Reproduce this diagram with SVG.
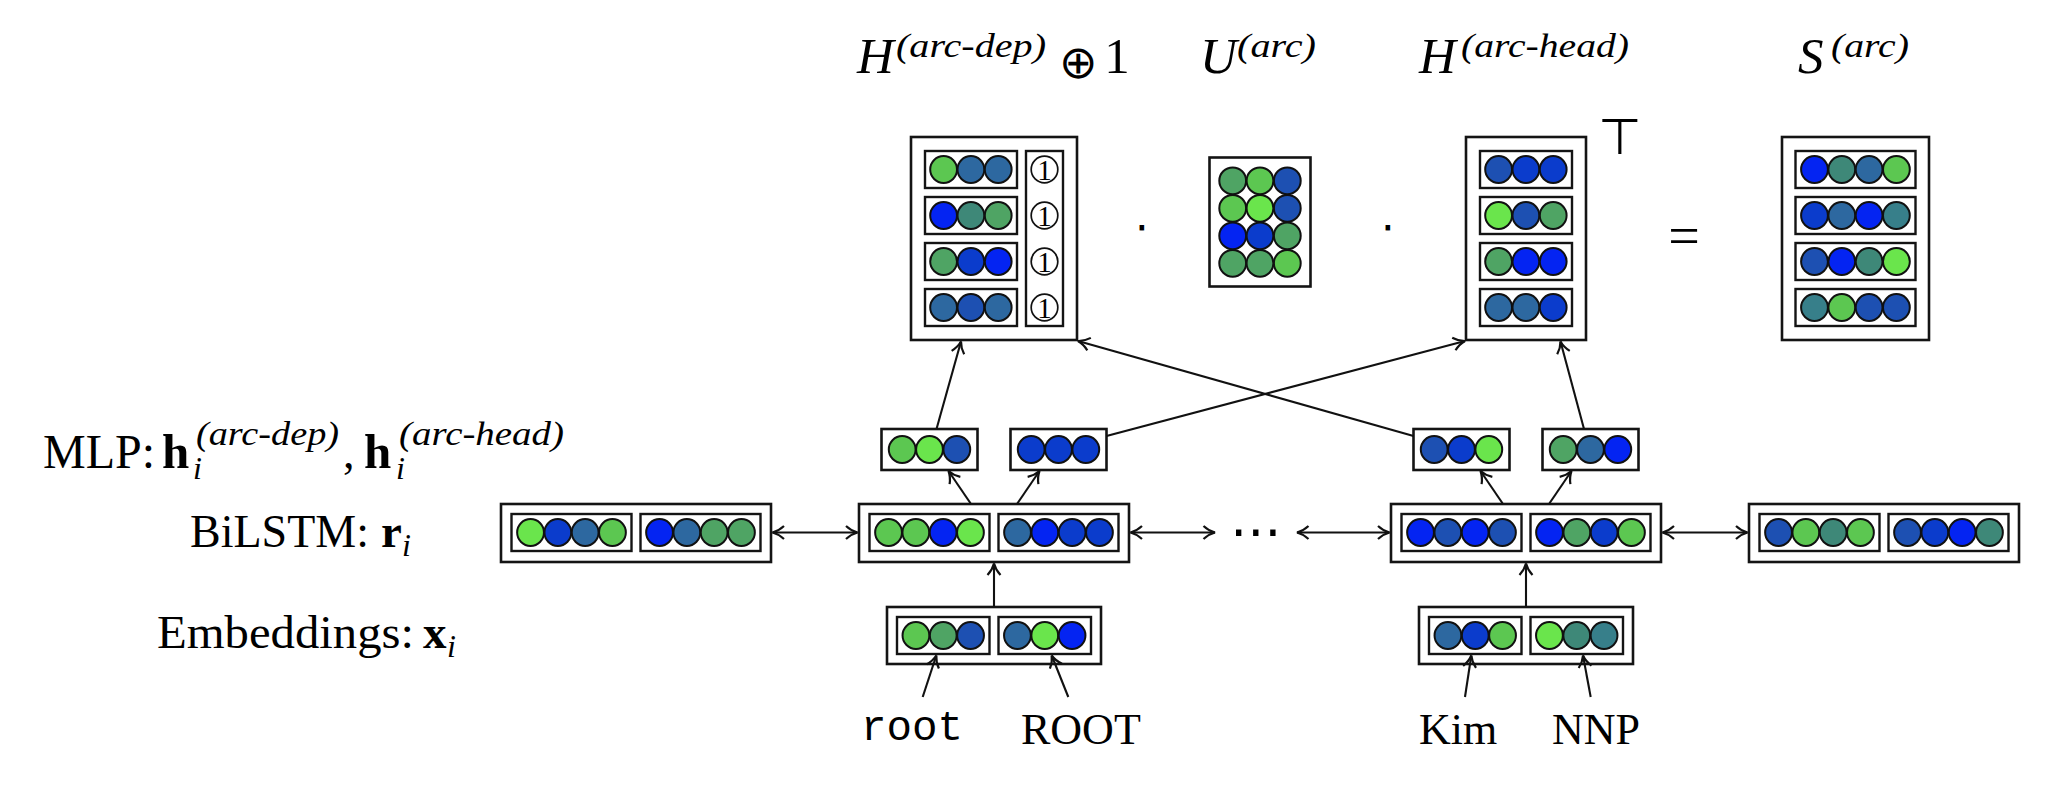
<svg xmlns="http://www.w3.org/2000/svg" width="2046" height="790" viewBox="0 0 2046 790">
<defs>
<style>
.bx{fill:#fff;stroke:#141414;stroke-width:2.6}
.ib{fill:#fff;stroke:#141414;stroke-width:2.4}
circle{stroke:#111;stroke-width:2}
.lm{fill:#6ae54c}.gr{fill:#5cc751}.se{fill:#4fa464}.te{fill:#3e8878}.t2{fill:#377f8a}
.st{fill:#2d68a0}.b1{fill:#1d50b2}.b2{fill:#0b3ccc}.b3{fill:#0424f2}
.one{fill:none;stroke:#111;stroke-width:1.7}
.ln{stroke:#111;stroke-width:2.1;fill:none}
.rm{font-family:"Liberation Serif",serif;fill:#000}
.it{font-family:"Liberation Serif",serif;font-style:italic;fill:#000}
.bf{font-family:"Liberation Serif",serif;font-weight:bold;fill:#000}
.sy{font-family:"DejaVu Sans",sans-serif;fill:#000}
.tt{font-family:"Liberation Mono",monospace;fill:#000}
</style>
<marker id="ah" viewBox="-14 -8 16 16" markerWidth="16" markerHeight="16" refX="0" refY="0" orient="auto-start-reverse" markerUnits="userSpaceOnUse">
<path d="M-11.5,-6.5 C-7.5,-2.8 -2.8,-0.7 0,0 C-2.8,0.7 -7.5,2.8 -11.5,6.5" fill="none" stroke="#111" stroke-width="2.2"/>
</marker>
</defs>
<rect width="2046" height="790" fill="#fff"/>

<!-- titles -->
<g id="title-hdep">
<text class="it" x="857" y="73" font-size="51">H</text>
<text class="it" x="896" y="57" font-size="34" textLength="150" lengthAdjust="spacingAndGlyphs">(arc-dep)</text>
<text class="sy" x="1078" y="78" font-size="46" text-anchor="middle" font-weight="200">⊕</text>
<text class="rm" x="1117" y="73" font-size="51" text-anchor="middle">1</text>
</g>
<g id="title-u">
<text class="it" x="1200" y="73" font-size="51">U</text>
<text class="it" x="1237" y="57" font-size="34" textLength="79" lengthAdjust="spacingAndGlyphs">(arc)</text>
</g>
<g id="title-hhead">
<text class="it" x="1419" y="73" font-size="51">H</text>
<text class="it" x="1461" y="57" font-size="34" textLength="168" lengthAdjust="spacingAndGlyphs">(arc-head)</text>
<text class="sy" x="1620" y="154" font-size="50" text-anchor="middle">⊤</text>
</g>
<g id="title-s">
<text class="it" x="1798" y="73" font-size="51">S</text>
<text class="it" x="1831" y="57" font-size="34" textLength="78" lengthAdjust="spacingAndGlyphs">(arc)</text>
</g>

<!-- operators -->
<g id="operators">
<text class="sy" x="1142" y="243" font-size="44" text-anchor="middle">⋅</text>
<text class="sy" x="1388" y="243" font-size="44" text-anchor="middle">⋅</text>
<text class="rm" x="1684" y="255" font-size="56" text-anchor="middle">=</text>
<text class="sy" x="1256" y="549" font-size="52" text-anchor="middle">⋯</text>
</g>

<!-- left labels -->
<g id="label-mlp">
<text class="rm" x="43" y="468" font-size="48">MLP:</text>
<text class="bf" x="162" y="468" font-size="49">h</text>
<text class="it" x="193" y="479" font-size="32">i</text>
<text class="it" x="196" y="445" font-size="34" textLength="143" lengthAdjust="spacingAndGlyphs">(arc-dep)</text>
<text class="rm" x="343" y="468" font-size="46">,</text>
<text class="bf" x="364" y="468" font-size="49">h</text>
<text class="it" x="396" y="479" font-size="32">i</text>
<text class="it" x="399" y="445" font-size="34" textLength="165" lengthAdjust="spacingAndGlyphs">(arc-head)</text>
</g>
<g id="label-bilstm">
<text class="rm" x="190" y="547" font-size="46">BiLSTM:</text>
<text class="bf" x="381" y="547" font-size="47">r</text>
<text class="it" x="402" y="556" font-size="32">i</text>
</g>
<g id="label-emb">
<text class="rm" x="157" y="648" font-size="46" textLength="257" lengthAdjust="spacingAndGlyphs">Embeddings:</text>
<text class="bf" x="423" y="648" font-size="47">x</text>
<text class="it" x="447" y="657" font-size="32">i</text>
</g>

<!-- inputs -->
<g id="input-root"><text class="tt" x="861" y="740" font-size="42.5">root</text></g>
<g id="input-ROOT"><text class="rm" x="1021" y="744" font-size="44">ROOT</text></g>
<g id="input-Kim"><text class="rm" x="1419" y="744" font-size="44">Kim</text></g>
<g id="input-NNP"><text class="rm" x="1552" y="744" font-size="44">NNP</text></g>

<!-- H arc-dep ⊕ 1 -->
<g id="H-arc-dep">
<rect class="bx" x="911" y="137" width="166" height="203"/>
<rect class="ib" x="925" y="151" width="92" height="37"/>
<rect class="ib" x="925" y="197" width="92" height="37"/>
<rect class="ib" x="925" y="243" width="92" height="37"/>
<rect class="ib" x="925" y="289" width="92" height="37"/>
<rect class="ib" x="1026" y="151" width="37" height="175"/>
<circle class="gr" cx="943.6" cy="169.5" r="13.4"/><circle class="st" cx="970.9" cy="169.5" r="13.4"/><circle class="st" cx="998.2" cy="169.5" r="13.4"/>
<circle class="b3" cx="943.6" cy="215.5" r="13.4"/><circle class="te" cx="970.9" cy="215.5" r="13.4"/><circle class="se" cx="998.2" cy="215.5" r="13.4"/>
<circle class="se" cx="943.6" cy="261.5" r="13.4"/><circle class="b2" cx="970.9" cy="261.5" r="13.4"/><circle class="b3" cx="998.2" cy="261.5" r="13.4"/>
<circle class="st" cx="943.6" cy="307.5" r="13.4"/><circle class="b1" cx="970.9" cy="307.5" r="13.4"/><circle class="st" cx="998.2" cy="307.5" r="13.4"/>
<circle class="one" cx="1044.5" cy="169.5" r="13.3"/><circle class="one" cx="1044.5" cy="215.5" r="13.3"/>
<circle class="one" cx="1044.5" cy="261.5" r="13.3"/><circle class="one" cx="1044.5" cy="307.5" r="13.3"/>
<text class="rm" x="1044.5" y="179.5" font-size="29" text-anchor="middle">1</text>
<text class="rm" x="1044.5" y="225.5" font-size="29" text-anchor="middle">1</text>
<text class="rm" x="1044.5" y="271.5" font-size="29" text-anchor="middle">1</text>
<text class="rm" x="1044.5" y="317.5" font-size="29" text-anchor="middle">1</text>
</g>

<!-- U arc -->
<g id="U-arc">
<rect class="bx" x="1209.5" y="157.5" width="101" height="129"/>
<circle class="se" cx="1232.7" cy="180.8" r="13.4"/><circle class="gr" cx="1260" cy="180.8" r="13.4"/><circle class="b1" cx="1287.3" cy="180.8" r="13.4"/>
<circle class="gr" cx="1232.7" cy="208.3" r="13.4"/><circle class="lm" cx="1260" cy="208.3" r="13.4"/><circle class="b1" cx="1287.3" cy="208.3" r="13.4"/>
<circle class="b3" cx="1232.7" cy="235.8" r="13.4"/><circle class="b2" cx="1260" cy="235.8" r="13.4"/><circle class="se" cx="1287.3" cy="235.8" r="13.4"/>
<circle class="se" cx="1232.7" cy="263.3" r="13.4"/><circle class="se" cx="1260" cy="263.3" r="13.4"/><circle class="gr" cx="1287.3" cy="263.3" r="13.4"/>
</g>

<!-- H arc-head -->
<g id="H-arc-head">
<rect class="bx" x="1466" y="137" width="120" height="203"/>
<rect class="ib" x="1480" y="151" width="92" height="37"/>
<rect class="ib" x="1480" y="197" width="92" height="37"/>
<rect class="ib" x="1480" y="243" width="92" height="37"/>
<rect class="ib" x="1480" y="289" width="92" height="37"/>
<circle class="b1" cx="1498.6" cy="169.5" r="13.4"/><circle class="b2" cx="1525.9" cy="169.5" r="13.4"/><circle class="b2" cx="1553.2" cy="169.5" r="13.4"/>
<circle class="lm" cx="1498.6" cy="215.5" r="13.4"/><circle class="b1" cx="1525.9" cy="215.5" r="13.4"/><circle class="se" cx="1553.2" cy="215.5" r="13.4"/>
<circle class="se" cx="1498.6" cy="261.5" r="13.4"/><circle class="b3" cx="1525.9" cy="261.5" r="13.4"/><circle class="b3" cx="1553.2" cy="261.5" r="13.4"/>
<circle class="st" cx="1498.6" cy="307.5" r="13.4"/><circle class="st" cx="1525.9" cy="307.5" r="13.4"/><circle class="b2" cx="1553.2" cy="307.5" r="13.4"/>
</g>

<!-- S arc -->
<g id="S-arc">
<rect class="bx" x="1782" y="137" width="147" height="203"/>
<rect class="ib" x="1795.5" y="151" width="120" height="37"/>
<rect class="ib" x="1795.5" y="197" width="120" height="37"/>
<rect class="ib" x="1795.5" y="243" width="120" height="37"/>
<rect class="ib" x="1795.5" y="289" width="120" height="37"/>
<circle class="b3" cx="1814.5" cy="169.5" r="13.4"/><circle class="te" cx="1841.8" cy="169.5" r="13.4"/><circle class="st" cx="1869.1" cy="169.5" r="13.4"/><circle class="gr" cx="1896.4" cy="169.5" r="13.4"/>
<circle class="b2" cx="1814.5" cy="215.5" r="13.4"/><circle class="st" cx="1841.8" cy="215.5" r="13.4"/><circle class="b3" cx="1869.1" cy="215.5" r="13.4"/><circle class="t2" cx="1896.4" cy="215.5" r="13.4"/>
<circle class="b1" cx="1814.5" cy="261.5" r="13.4"/><circle class="b3" cx="1841.8" cy="261.5" r="13.4"/><circle class="te" cx="1869.1" cy="261.5" r="13.4"/><circle class="lm" cx="1896.4" cy="261.5" r="13.4"/>
<circle class="t2" cx="1814.5" cy="307.5" r="13.4"/><circle class="gr" cx="1841.8" cy="307.5" r="13.4"/><circle class="b1" cx="1869.1" cy="307.5" r="13.4"/><circle class="b1" cx="1896.4" cy="307.5" r="13.4"/>
</g>

<!-- MLP outputs -->
<g id="mlp-root-dep">
<rect class="bx" x="881.5" y="429" width="96" height="41"/>
<circle class="gr" cx="902.2" cy="449.5" r="13.4"/><circle class="lm" cx="929.5" cy="449.5" r="13.4"/><circle class="b1" cx="956.8" cy="449.5" r="13.4"/>
</g>
<g id="mlp-root-head">
<rect class="bx" x="1010.5" y="429" width="96" height="41"/>
<circle class="b2" cx="1031.2" cy="449.5" r="13.4"/><circle class="b2" cx="1058.5" cy="449.5" r="13.4"/><circle class="b2" cx="1085.8" cy="449.5" r="13.4"/>
</g>
<g id="mlp-kim-dep">
<rect class="bx" x="1413.5" y="429" width="96" height="41"/>
<circle class="b1" cx="1434.2" cy="449.5" r="13.4"/><circle class="b2" cx="1461.5" cy="449.5" r="13.4"/><circle class="lm" cx="1488.8" cy="449.5" r="13.4"/>
</g>
<g id="mlp-kim-head">
<rect class="bx" x="1542.5" y="429" width="96" height="41"/>
<circle class="se" cx="1563.2" cy="449.5" r="13.4"/><circle class="st" cx="1590.5" cy="449.5" r="13.4"/><circle class="b3" cx="1617.8" cy="449.5" r="13.4"/>
</g>

<!-- BiLSTM states -->
<g id="bilstm-0">
<rect class="bx" x="501" y="504" width="270" height="58"/>
<rect class="ib" x="511.5" y="514" width="120" height="37"/><rect class="ib" x="640.5" y="514" width="120" height="37"/>
<circle class="lm" cx="530.55" cy="532.5" r="13.4"/><circle class="b2" cx="557.85" cy="532.5" r="13.4"/><circle class="st" cx="585.15" cy="532.5" r="13.4"/><circle class="gr" cx="612.45" cy="532.5" r="13.4"/>
<circle class="b3" cx="659.55" cy="532.5" r="13.4"/><circle class="st" cx="686.85" cy="532.5" r="13.4"/><circle class="se" cx="714.15" cy="532.5" r="13.4"/><circle class="se" cx="741.45" cy="532.5" r="13.4"/>
</g>
<g id="bilstm-root">
<rect class="bx" x="859" y="504" width="270" height="58"/>
<rect class="ib" x="869.5" y="514" width="120" height="37"/><rect class="ib" x="998.5" y="514" width="120" height="37"/>
<circle class="gr" cx="888.55" cy="532.5" r="13.4"/><circle class="gr" cx="915.85" cy="532.5" r="13.4"/><circle class="b3" cx="943.15" cy="532.5" r="13.4"/><circle class="lm" cx="970.45" cy="532.5" r="13.4"/>
<circle class="st" cx="1017.55" cy="532.5" r="13.4"/><circle class="b3" cx="1044.85" cy="532.5" r="13.4"/><circle class="b2" cx="1072.15" cy="532.5" r="13.4"/><circle class="b2" cx="1099.45" cy="532.5" r="13.4"/>
</g>
<g id="bilstm-kim">
<rect class="bx" x="1391" y="504" width="270" height="58"/>
<rect class="ib" x="1401.5" y="514" width="120" height="37"/><rect class="ib" x="1530.5" y="514" width="120" height="37"/>
<circle class="b3" cx="1420.55" cy="532.5" r="13.4"/><circle class="b1" cx="1447.85" cy="532.5" r="13.4"/><circle class="b3" cx="1475.15" cy="532.5" r="13.4"/><circle class="b1" cx="1502.45" cy="532.5" r="13.4"/>
<circle class="b3" cx="1549.55" cy="532.5" r="13.4"/><circle class="se" cx="1576.85" cy="532.5" r="13.4"/><circle class="b2" cx="1604.15" cy="532.5" r="13.4"/><circle class="gr" cx="1631.45" cy="532.5" r="13.4"/>
</g>
<g id="bilstm-3">
<rect class="bx" x="1749" y="504" width="270" height="58"/>
<rect class="ib" x="1759.5" y="514" width="120" height="37"/><rect class="ib" x="1888.5" y="514" width="120" height="37"/>
<circle class="b1" cx="1778.55" cy="532.5" r="13.4"/><circle class="gr" cx="1805.85" cy="532.5" r="13.4"/><circle class="te" cx="1833.15" cy="532.5" r="13.4"/><circle class="gr" cx="1860.45" cy="532.5" r="13.4"/>
<circle class="b1" cx="1907.55" cy="532.5" r="13.4"/><circle class="b2" cx="1934.85" cy="532.5" r="13.4"/><circle class="b3" cx="1962.15" cy="532.5" r="13.4"/><circle class="te" cx="1989.45" cy="532.5" r="13.4"/>
</g>

<!-- Embeddings -->
<g id="emb-root">
<rect class="bx" x="887" y="607" width="214" height="57"/>
<rect class="ib" x="897" y="617" width="92.5" height="37"/><rect class="ib" x="998.5" y="617" width="92.5" height="37"/>
<circle class="gr" cx="915.95" cy="635.5" r="13.4"/><circle class="se" cx="943.25" cy="635.5" r="13.4"/><circle class="b1" cx="970.55" cy="635.5" r="13.4"/>
<circle class="st" cx="1017.45" cy="635.5" r="13.4"/><circle class="lm" cx="1044.75" cy="635.5" r="13.4"/><circle class="b3" cx="1072.05" cy="635.5" r="13.4"/>
</g>
<g id="emb-kim">
<rect class="bx" x="1419" y="607" width="214" height="57"/>
<rect class="ib" x="1429" y="617" width="92.5" height="37"/><rect class="ib" x="1530.5" y="617" width="92.5" height="37"/>
<circle class="st" cx="1447.95" cy="635.5" r="13.4"/><circle class="b2" cx="1475.25" cy="635.5" r="13.4"/><circle class="gr" cx="1502.55" cy="635.5" r="13.4"/>
<circle class="lm" cx="1549.45" cy="635.5" r="13.4"/><circle class="te" cx="1576.75" cy="635.5" r="13.4"/><circle class="t2" cx="1604.05" cy="635.5" r="13.4"/>
</g>

<!-- connectors -->
<g id="connectors" class="ln" marker-end="url(#ah)">
<line x1="922.7" y1="697" x2="936.3" y2="655.5"/>
<line x1="1068.3" y1="697" x2="1051.7" y2="655.5"/>
<line x1="1465" y1="697" x2="1471.3" y2="655.5"/>
<line x1="1590.7" y1="697" x2="1583" y2="655.5"/>
<line x1="994" y1="607" x2="994" y2="563.5"/>
<line x1="1526" y1="607" x2="1526" y2="563.5"/>
<line x1="971" y1="504" x2="948.5" y2="471"/>
<line x1="1017" y1="504" x2="1039.5" y2="471"/>
<line x1="1503" y1="504" x2="1480.5" y2="471"/>
<line x1="1549" y1="504" x2="1571.5" y2="471"/>
<line x1="936.5" y1="429" x2="961" y2="341.5"/>
<line x1="1106.5" y1="436" x2="1465" y2="341"/>
<line x1="1413.5" y1="436" x2="1078" y2="341"/>
<line x1="1584" y1="429" x2="1560.5" y2="341.5"/>
<line x1="772.5" y1="532.5" x2="857.5" y2="532.5" marker-start="url(#ah)"/>
<line x1="1130.5" y1="532.5" x2="1215" y2="532.5" marker-start="url(#ah)"/>
<line x1="1297" y1="532.5" x2="1389.5" y2="532.5" marker-start="url(#ah)"/>
<line x1="1662.5" y1="532.5" x2="1747.5" y2="532.5" marker-start="url(#ah)"/>
</g>
</svg>
